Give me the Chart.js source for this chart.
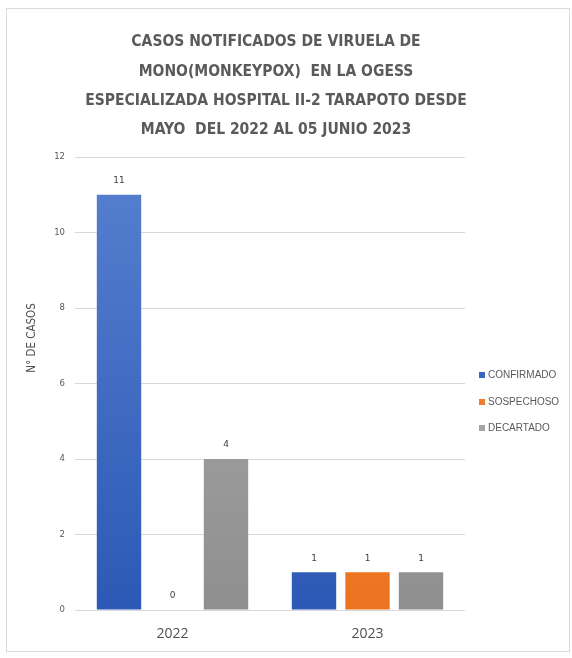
<!DOCTYPE html>
<html>
<head>
<meta charset="utf-8">
<script src="https://cdn.jsdelivr.net/npm/chart.js@4"></script>
<style>
  html, body { margin: 0; padding: 0; background: #fff; }
  #wrap { width: 572px; height: 658px; position: relative; }
</style>
</head>
<body>
<div id="wrap"><canvas id="chart"></canvas></div>
<script>
// datos
const years = ['2022', '2023'];
const confirmado = [11, 1];
const sospechoso = [0, 1];
const descartado = [4, 1];
const seriesNames = ['CONFIRMADO', 'SOSPECHOSO', 'DECARTADO'];
const titleLines = [
  'CASOS NOTIFICADOS DE VIRUELA DE',
  'MONO(MONKEYPOX)  EN LA OGESS',
  'ESPECIALIZADA HOSPITAL II-2 TARAPOTO DESDE',
  'MAYO  DEL 2022 AL 05 JUNIO 2023'
];
const yTitle = 'N° DE CASOS';
const yMax = 12;
const yStep = 2;

const textGray = '#595959';
const titleFont = '"Liberation Sans Narrow", "DejaVu Sans Condensed", sans-serif';

// colores (degradado tipo Excel)
const fills = [
  ['#5780cf', '#2d59b6'],
  ['#f58c3e', '#ec7420'],
  ['#b0b0b0', '#8f8f8f']
];
const markerColors = ['#3a66c0', '#ed7d31', '#a5a5a5'];

function gradientFor(idx) {
  return function(ctx) {
    const chart = ctx.chart;
    const area = chart.chartArea;
    if (!area) return fills[idx][1];
    const g = chart.ctx.createLinearGradient(0, area.top, 0, area.bottom);
    g.addColorStop(0, fills[idx][0]);
    g.addColorStop(1, fills[idx][1]);
    return g;
  };
}

// marco + titulo + leyenda + etiquetas
const extras = {
  id: 'extras',
  beforeDraw(chart) {
    const c = chart.ctx;
    c.save();
    c.fillStyle = '#fff';
    c.fillRect(0, 0, chart.width, chart.height);
    c.strokeStyle = '#dcdcdc';
    c.lineWidth = 1;
    c.strokeRect(6.5, 8.5, 563, 643);
    c.restore();
  },
  afterDatasetsDraw(chart) {
    const c = chart.ctx;
    c.save();
    c.fillStyle = '#404040';
    c.font = '9px "DejaVu Sans", sans-serif';
    c.textAlign = 'center';
    c.textBaseline = 'middle';
    chart.data.datasets.forEach((ds, i) => {
      const meta = chart.getDatasetMeta(i);
      meta.data.forEach((bar, j) => {
        c.fillText(String(ds.data[j]), bar.x, bar.y - 14);
      });
    });
    c.restore();
  },
  afterDraw(chart) {
    const c = chart.ctx;
    c.save();
    // titulo
    c.fillStyle = '#5a5a5a';
    c.font = 'bold 15.5px ' + titleFont;
    c.textAlign = 'center';
    c.textBaseline = 'middle';
    const ys = [42, 72, 101, 130];
    titleLines.forEach((t, i) => c.fillText(t, 276, ys[i]));
    // titulo del eje Y (no centrado en el eje en el original)
    c.save();
    c.translate(32, 338);
    c.rotate(-Math.PI / 2);
    c.font = '11.5px ' + titleFont;
    c.fillStyle = '#505050';
    c.fillText(yTitle, 0, 0);
    c.restore();
    // leyenda
    c.font = '10px "Liberation Sans", sans-serif';
    c.textAlign = 'left';
    const ly = [375, 402, 428];
    seriesNames.forEach((name, i) => {
      c.fillStyle = markerColors[i];
      c.fillRect(479, ly[i] - 3, 6, 6);
      c.fillStyle = textGray;
      c.fillText(name, 488, ly[i]);
    });
    c.restore();
  }
};

new Chart(document.getElementById('chart'), {
  type: 'bar',
  data: {
    labels: years,
    datasets: [
      { label: seriesNames[0], data: confirmado, backgroundColor: gradientFor(0) },
      { label: seriesNames[1], data: sospechoso, backgroundColor: gradientFor(1) },
      { label: seriesNames[2], data: descartado, backgroundColor: gradientFor(2) }
    ]
  },
  options: {
    responsive: true,
    maintainAspectRatio: false,
    animation: false,
    categoryPercentage: 0.823,
    barPercentage: 0.83,
    layout: { padding: { top: 157, left: 25, right: 107, bottom: 8 } },
    plugins: {
      legend: { display: false },
      title: { display: false },
      tooltip: { enabled: false }
    },
    scales: {
      x: {
        grid: { display: false },
        border: { display: false },
        ticks: {
          color: '#505050',
          font: { size: 14, family: '"Open Sans", sans-serif' },
          padding: 8
        },
        afterFit(scale) { scale.height = 40; }
      },
      y: {
        min: 0,
        max: yMax,
        ticks: {
          stepSize: yStep,
          color: textGray,
          font: { size: 8.5, family: '"DejaVu Sans", sans-serif' },
          padding: 10
        },
        grid: { color: '#d9d9d9', drawTicks: false },
        border: { display: false },
        afterFit(scale) { scale.width = 50; }
      }
    }
  },
  plugins: [extras]
});
</script>
</body>
</html>
